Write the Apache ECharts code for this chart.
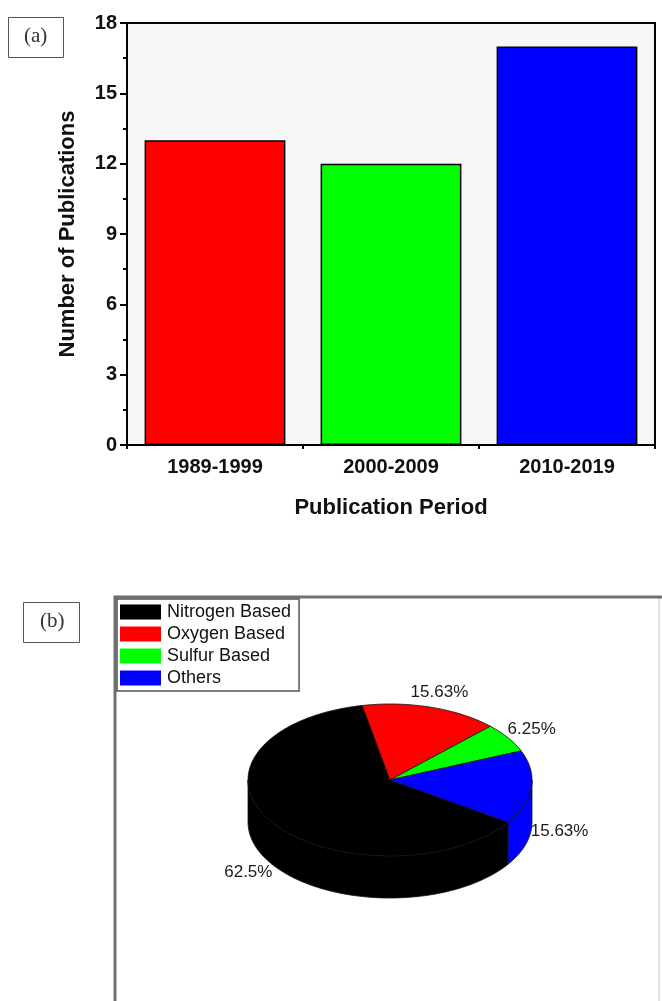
<!DOCTYPE html>
<html>
<head>
<meta charset="utf-8">
<title>Publications</title>
<script src="https://cdn.jsdelivr.net/npm/echarts@6.0.0/dist/echarts.min.js"></script>
<style>
  html, body { margin: 0; padding: 0; background: #fff; }
  #chart { width: 662px; height: 1001px; }
</style>
</head>
<body>
<div id="chart"></div>
<script>
(function () {
  "use strict";

  // (a) publications per period
  var periods = ["1989-1999", "2000-2009", "2010-2019"];
  var pubCounts = [13, 12, 17];
  var barColors = ["#ff0000", "#00ff00", "#0000ff"];
  var yTicks = { min: 0, max: 18, interval: 3 };

  // (b) share by type
  var pieNames = ["Nitrogen Based", "Oxygen Based", "Sulfur Based", "Others"];
  var pieValues = [62.5, 15.63, 6.25, 15.63];
  var pieColors = ["#000000", "#ff0000", "#00ff00", "#0000ff"];

  // pseudo-3D pie geometry (pixels / degrees)
  var cx = 390, cy = 780, rx = 142, ry = 76, depth = 42, startAngle = -33.75;

  var total = pieValues.reduce(function (a, b) { return a + b; }, 0);
  var angles = [];
  var cur = startAngle;
  pieValues.forEach(function (v) {
    var span = (v / total) * 360;
    angles.push([cur, cur - span]);
    cur -= span;
  });

  function pt(a, dy) {
    var r = (a * Math.PI) / 180;
    return [cx + rx * Math.cos(r), cy - ry * Math.sin(r) + dy];
  }

  function arc(a1, a2, dy) {
    var n = Math.max(2, Math.ceil(Math.abs(a2 - a1) / 2) + 1);
    var pts = [];
    for (var k = 0; k < n; k++) {
      pts.push(pt(a1 + ((a2 - a1) * k) / (n - 1), dy));
    }
    return pts;
  }

  // parts of [lo, hi] that face the viewer (lower half of the ellipse)
  function frontRanges(lo, hi) {
    var out = [];
    for (var k = -2; k <= 2; k++) {
      var s = Math.max(lo, -180 + 360 * k);
      var e = Math.min(hi, 360 * k);
      if (s < e) out.push([s, e]);
    }
    return out;
  }

  function pieSeries(i) {
    return {
      type: "custom",
      name: pieNames[i],
      coordinateSystem: "none",
      silent: true,
      itemStyle: { color: pieColors[i] },
      data: [pieValues[i]],
      renderItem: function () {
        var a = angles[i];
        var children = [];
        frontRanges(a[1], a[0]).forEach(function (r) {
          var top = arc(r[1], r[0], 0);
          var bot = arc(r[0], r[1], depth);
          children.push({
            type: "polygon",
            z2: 1,
            shape: { points: top.concat(bot) },
            style: { fill: pieColors[i], stroke: "#111", lineWidth: 0.8 }
          });
        });
        children.push({
          type: "polygon",
          z2: 10,
          shape: { points: [[cx, cy]].concat(arc(a[0], a[1], 0)) },
          style: { fill: pieColors[i], stroke: "#111", lineWidth: 0.8 }
        });
        var m = (a[0] + a[1]) / 2;
        var mr = (m * Math.PI) / 180;
        var lx = cx + rx * 1.2 * Math.cos(mr);
        var ly = cy - ry * 1.2 * Math.sin(mr) + (Math.sin(mr) < 0 ? depth : 0);
        children.push({
          type: "text",
          z2: 20,
          x: lx,
          y: ly,
          style: {
            text: pieValues[i] + "%",
            fill: "#1a1a1a",
            font: '17px "Liberation Sans", Arial, sans-serif',
            align: "center",
            verticalAlign: "middle"
          }
        });
        return { type: "group", children: children };
      }
    };
  }

  var chart = echarts.init(document.getElementById("chart"));
  var sans = '"Liberation Sans", Arial, sans-serif';

  var series = [
    {
      type: "bar",
      xAxisIndex: 0,
      yAxisIndex: 0,
      barCategoryGap: "20%",
      silent: true,
      data: pubCounts.map(function (v, i) {
        return {
          value: v,
          itemStyle: { color: barColors[i], borderColor: "#000", borderWidth: 1.5 }
        };
      })
    }
  ];
  pieNames.forEach(function (n, i) { series.push(pieSeries(i)); });

  chart.setOption({
    animation: false,
    textStyle: { fontFamily: sans },
    grid: {
      left: 127, right: 7, top: 23, bottom: 556,
      show: true,
      backgroundColor: "#f7f7f7",
      borderColor: "#000",
      borderWidth: 2
    },
    xAxis: [
      {
        type: "category",
        data: periods,
        position: "bottom",
        axisLine: { lineStyle: { color: "#000", width: 2 } },
        axisTick: { alignWithLabel: true, length: 8, lineStyle: { color: "#000", width: 2 } },
        axisLabel: { color: "#111", fontSize: 20, fontWeight: "bold", margin: 12 },
        name: "Publication Period",
        nameLocation: "middle",
        nameGap: 52,
        nameTextStyle: { color: "#111", fontSize: 22, fontWeight: "bold" }
      },
      {
        // boundary ticks between periods, laid on the bottom edge
        type: "category",
        data: periods,
        position: "top",
        offset: -421,
        axisLine: { show: false },
        axisTick: { show: true, inside: true, length: 5, lineStyle: { color: "#000", width: 2 } },
        axisLabel: { show: false }
      }
    ],
    yAxis: {
      type: "value",
      min: yTicks.min,
      max: yTicks.max,
      interval: yTicks.interval,
      axisLine: { show: true, lineStyle: { color: "#000", width: 2 } },
      axisTick: { show: true, length: 7, lineStyle: { color: "#000", width: 2 } },
      minorTick: { show: true, splitNumber: 2, length: 4, lineStyle: { color: "#000", width: 2 } },
      splitLine: { show: false },
      axisLabel: { color: "#111", fontSize: 20, fontWeight: "bold", margin: 10 },
      name: "Number of Publications",
      nameLocation: "middle",
      nameGap: 48,
      nameTextStyle: { color: "#111", fontSize: 22, fontWeight: "bold" }
    },
    legend: {
      data: pieNames,
      orient: "vertical",
      left: 117,
      top: 599,
      icon: "rect",
      itemWidth: 41,
      itemHeight: 15,
      itemGap: 4,
      padding: [4, 8, 4, 3],
      borderColor: "#555",
      borderWidth: 1.5,
      backgroundColor: "#fff",
      selectedMode: false,
      itemStyle: { borderWidth: 0 },
      textStyle: { color: "#111", fontSize: 18, fontFamily: sans, padding: [0, 0, 0, 1] }
    },
    graphic: [
      {
        type: "rect", left: 8, top: 17,
        shape: { width: 55, height: 40 },
        style: { fill: "#fff", stroke: "#555", lineWidth: 1 }
      },
      {
        type: "text", left: 24, top: 26,
        style: { text: "(a)", fill: "#333", font: '21px "Liberation Serif", serif' }
      },
      {
        type: "rect", left: 23, top: 602,
        shape: { width: 56, height: 40 },
        style: { fill: "#fff", stroke: "#555", lineWidth: 1 }
      },
      {
        type: "text", left: 40, top: 611,
        style: { text: "(b)", fill: "#333", font: '21px "Liberation Serif", serif' }
      },
      {
        type: "polyline", z: -1,
        shape: { points: [[659, 598], [659, 1003]] },
        style: { stroke: "#c8c8c8", lineWidth: 1, fill: null }
      },
      {
        type: "polyline", z: -1,
        shape: { points: [[115, 1003], [115, 597], [662, 597]] },
        style: { stroke: "#707070", lineWidth: 3, fill: null }
      }
    ],
    series: series
  });

  window.addEventListener("resize", function () {
    chart.resize();
  });
})();
</script>
</body>
</html>
